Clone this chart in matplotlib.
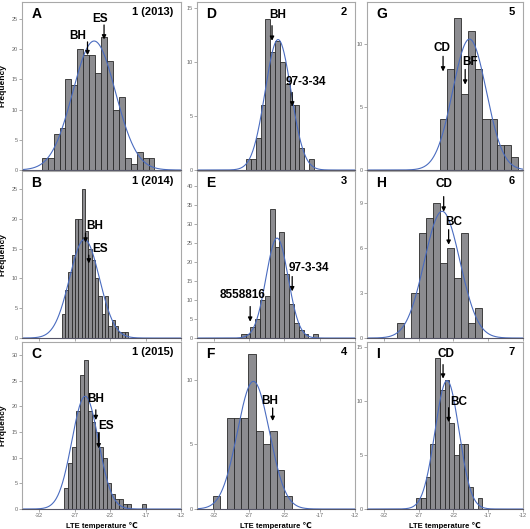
import numpy as np
import matplotlib
matplotlib.use('Agg')
import matplotlib.pyplot as plt

plt.rcParams['font.family'] = ['Liberation Sans', 'DejaVu Sans']
plt.rcParams['axes.unicode_minus'] = False

# histogram counts (one list per panel)
counts_a = [2, 2, 6, 7, 15, 14, 20, 19, 19, 16, 22, 18, 10, 12, 2, 1, 3, 2, 2]
counts_b = [4, 8, 11, 14, 20, 20, 25, 18, 15, 13, 10, 7, 4, 7, 2, 3, 2, 1, 1, 1]
counts_c = [4, 9, 12, 19, 26, 29, 19, 17, 15, 12, 10, 5, 3, 2, 2, 1, 1, 0, 0, 0, 1]
counts_d = [1, 1, 3, 6, 14, 11, 12, 10, 8, 6, 6, 2, 0, 1]
counts_e = [1, 1, 3, 5, 10, 11, 34, 24, 28, 17, 9, 4, 2, 1, 0, 1]
counts_f = [1, 0, 7, 7, 7, 12, 6, 5, 6, 3, 1]
counts_g = [4, 8, 12, 6, 11, 8, 4, 4, 2, 2, 1]
counts_h = [1, 0, 3, 7, 8, 9, 5, 6, 4, 7, 1, 2]
counts_i = [1, 1, 3, 6, 14, 11, 12, 8, 5, 6, 6, 2, 0, 1]

# first bin edge and bin width (LTE temperature, degrees C)
bin_start = [-31.62, -28.8, -28.45, -27.43, -28.2, -32.2, -23.86, -30.05, -27.33]
bin_width = [0.836, 0.47, 0.55, 0.686, 0.686, 1.02, 1.01, 1.02, 0.68]

# fitted normal curve: mean and standard deviation
fit_mean = [-24.24, -25.6, -25.5, -22.9, -23.04, -26.4, -19.67, -23.6, -22.9]
fit_sd = [3.0, 2.11, 1.87, 1.83, 1.57, 2.27, 2.41, 2.56, 1.73]

letters = ['A', 'B', 'C', 'D', 'E', 'F', 'G', 'H', 'I']
titles = ['1 (2013)', '1 (2014)', '1 (2015)', '2', '3', '4', '5', '6', '7']
ylabels = ['Frequency', 'Frequency', 'Frrquency']
ymax = [27.8, 28.0, 32.5, 15.6, 44.0, 12.9, 13.3, 11.1, 15.5]
ystep = [5, 5, 5, 5, 5, 5, 5, 3, 5]
xticks = [-32, -27, -22, -17, -12]

# arrows: (label, text x, text y, arrow x, arrow top, arrow tip)
notes = [
    [('BH', -26.5, 21.2, -25.17, 21.2, 19.0), ('ES', -23.4, 24.0, -22.84, 24.0, 21.6)],
    [('BH', -24.1, 17.8, -25.45, 17.6, 16.0), ('ES', -23.4, 14.0, -24.99, 13.9, 12.5)],
    [('BH', -24.0, 20.3, -24.0, 19.3, 17.3), ('ES', -22.6, 14.9, -23.6, 14.7, 11.8)],
    [('BH', -23.0, 13.8, -23.76, 13.4, 12.0), ('97-3-34', -19.0, 7.6, -20.9, 7.2, 5.9)],
    [('97-3-34', -18.6, 16.9, -20.9, 16.2, 12.3), ('8558816', -28.0, 9.8, -26.86, 8.3, 4.3)],
    [('BH', -24.1, 7.9, -23.67, 7.8, 6.8)],
    [('CD', -23.6, 9.2, -23.47, 9.0, 7.8), ('BF', -19.6, 8.1, -20.29, 7.96, 6.76)],
    [('CD', -23.4, 9.85, -23.38, 9.4, 8.4), ('BC', -22.0, 7.3, -22.67, 7.2, 6.2)],
    [('CD', -23.1, 13.8, -23.47, 13.4, 12.1), ('BC', -21.2, 9.4, -22.67, 9.4, 8.06)],
]

all_counts = [counts_a, counts_b, counts_c, counts_d, counts_e,
              counts_f, counts_g, counts_h, counts_i]

fig = plt.figure(figsize=(5.30, 5.29), dpi=100)

col_left = [0.0415, 0.3717, 0.6925]
col_width = [0.300, 0.298, 0.294]
row_bottom = [0.6786, 0.361, 0.0378]
row_height = [0.3176, 0.3157, 0.3157]

xs = np.linspace(-34.4, -12, 400)
frame = '#a8a8a8'

for k in range(9):
    col = k // 3
    row = k % 3
    ax = fig.add_axes([col_left[col], row_bottom[row], col_width[col], row_height[row]])
    counts = np.array(all_counts[k])
    edges = bin_start[k] + bin_width[k] * np.arange(len(counts))
    ax.bar(edges, counts, width=bin_width[k], align='edge',
           color='#8c8c90', edgecolor='#2a2a2a', linewidth=0.6)

    n = counts.sum()
    dens = n * bin_width[k] / (fit_sd[k] * np.sqrt(2 * np.pi)) * \
        np.exp(-0.5 * ((xs - fit_mean[k]) / fit_sd[k]) ** 2)
    ax.plot(xs, dens, color='#4a6cc0', linewidth=0.8)

    ax.set_xlim(-34.4, -12)
    ax.set_ylim(0, ymax[k])
    ax.set_xticks(xticks)
    ax.set_yticks(np.arange(0, ymax[k], ystep[k]))
    ax.tick_params(axis='both', length=2, width=0.5, color='#888888',
                   labelsize=4, labelcolor='#666666', pad=1)
    if row == 2:
        ax.set_xlabel('LTE temperature ℃', fontsize=5.5, fontweight='bold', labelpad=3)
    else:
        ax.set_xticklabels([])
    if col == 0:
        ax.set_ylabel(ylabels[row], fontsize=6, fontweight='bold', labelpad=4)
    for s in ax.spines.values():
        s.set_color(frame)
        s.set_linewidth(0.8)
    ax.spines['bottom'].set_color('#555566')

    ax.text(0.06, 0.97, letters[k], transform=ax.transAxes, ha='left', va='top',
            fontsize=10, fontweight='bold')
    ax.text(0.95, 0.97, titles[k], transform=ax.transAxes, ha='right', va='top',
            fontsize=8, fontweight='bold')

    for lab, tx, ty, axx, atop, atip in notes[k]:
        ax.text(tx, ty, lab, ha='center', va='bottom', fontsize=8.5, fontweight='bold')
        ax.annotate('', xy=(axx, atip), xytext=(axx, atop),
                    arrowprops=dict(arrowstyle='-|>', color='black', lw=0.9,
                                    mutation_scale=6, shrinkA=0, shrinkB=0))

fig.savefig('out.png', dpi=100)
